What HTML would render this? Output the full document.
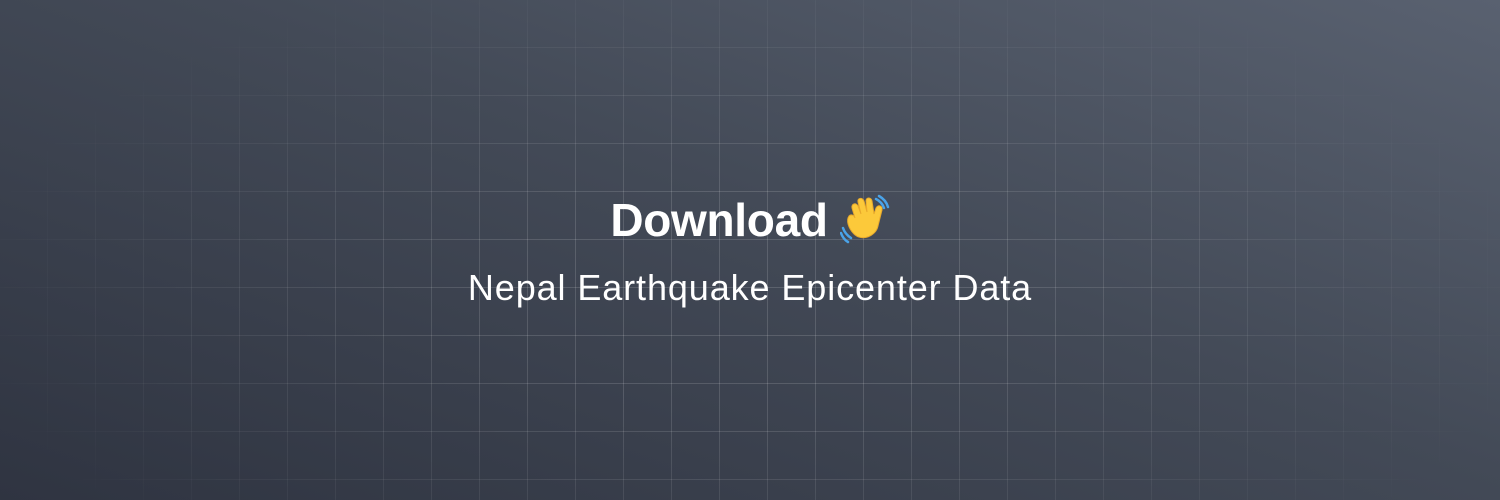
<!DOCTYPE html>
<html><head><meta charset="utf-8"><style>
html,body{margin:0;padding:0}
body{width:1500px;height:500px;overflow:hidden;position:relative;
background:linear-gradient(200deg,#596170 0%,#434a57 45%,#2f3441 100%);
font-family:"Liberation Sans",sans-serif;color:#fff}
#grid{position:absolute;left:0;top:0;width:1500px;height:500px;
background-image:linear-gradient(to right,rgba(255,255,255,.14) 1px,transparent 1px),linear-gradient(to bottom,rgba(255,255,255,.14) 1px,transparent 1px);
background-size:48px 48px;background-position:47px 47px;
-webkit-mask-image:radial-gradient(ellipse 800px 360px at 750px 300px,#000 30%,transparent 100%);
mask-image:radial-gradient(ellipse 800px 360px at 750px 300px,#000 30%,transparent 100%)}
#title{position:absolute;left:0;width:1500px;top:193px;text-align:center;font-weight:bold;font-size:46px;letter-spacing:-0.3px}
#title span{display:inline-block}
#wave{display:inline-block;vertical-align:-8px;margin-left:12px}
#sub{position:absolute;left:0;width:1500px;top:267px;text-align:center;font-size:36px;letter-spacing:0.9px}
</style></head><body>
<div id="grid"></div>
<div id="title"><span>Download</span><svg id="wave" width="50" height="50" viewBox="0 0 50 50">
<path d="M14 40 C8 34 6 26 9 22 C11 20 14 21 15 24 L12 14 C11 10 16 8 18 12 L21 20 L18 8 C17 4 22 3 24 7 L27 18 L26 7 C26 3 31 3 32 7 L34 20 L36 14 C38 10 43 12 42 16 L38 32 C36 42 22 48 14 40 Z" fill="#fcc93a" stroke="#e8a92b" stroke-width="1"/>
<path d="M36 5 Q42 8 44 14 M39 2 Q46 6 48 13" stroke="#4aa3e8" stroke-width="2.5" fill="none" stroke-linecap="round"/>
<path d="M3 34 Q5 40 11 44 M1 39 Q3 45 8 48" stroke="#4aa3e8" stroke-width="2.5" fill="none" stroke-linecap="round"/>
</svg></div>
<div id="sub">Nepal Earthquake Epicenter Data</div>
</body></html>
